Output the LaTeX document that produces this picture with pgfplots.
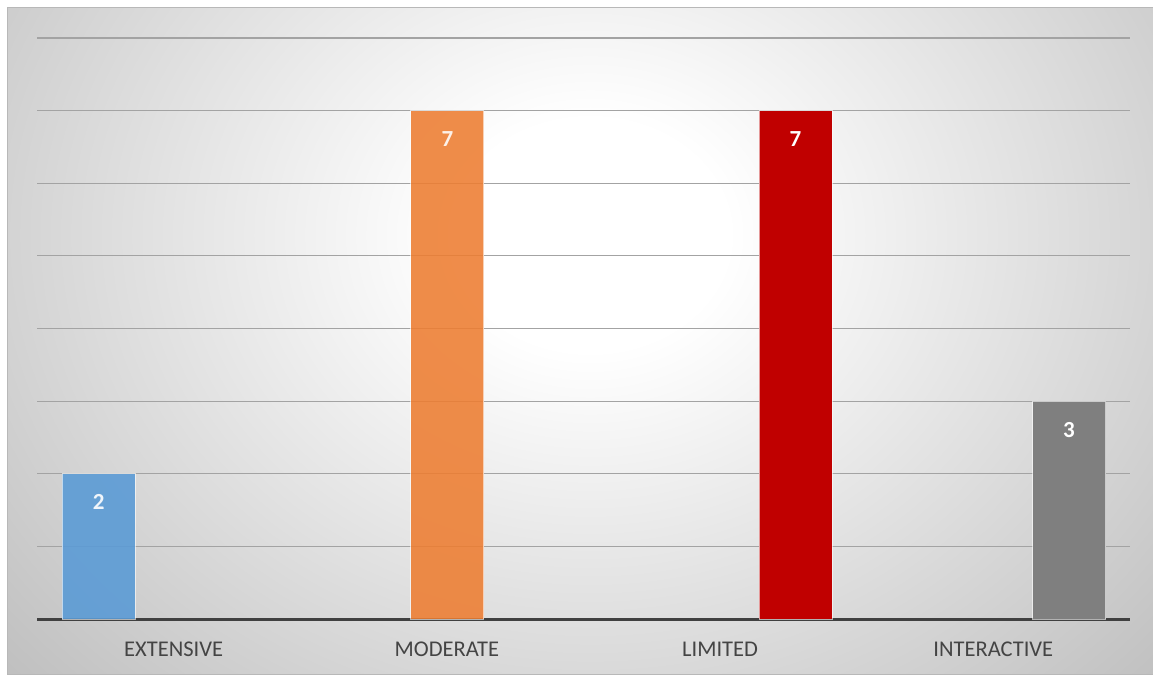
\documentclass[border=0pt]{standalone}
\usepackage{pgfplots}
\pgfplotsset{compat=1.18}
\usepackage{fontspec}
\setmainfont{Carlito}
\definecolor{cblue}{HTML}{5B9BD5}
\definecolor{corange}{HTML}{ED7D31}
\definecolor{cred}{HTML}{C00000}
\definecolor{cgray}{HTML}{7F7F7F}
\definecolor{axisgray}{HTML}{404040}
\definecolor{labelgray}{HTML}{444444}
\definecolor{gridgray}{HTML}{A3A3A3}
\definecolor{bgedge}{HTML}{B8B8B8}
\definecolor{bordergray}{HTML}{B8B8B8}
\pgfdeclareradialshading{bgrad}{\pgfpoint{0bp}{0bp}}{color(0bp)=(white); color(4bp)=(white); color(25bp)=(bgedge); color(50bp)=(bgedge)}
\begin{document}
\begin{tikzpicture}[x=1pt,y=1pt]
\useasboundingbox (0,0) rectangle (1153,675);
\fill[white] (0,0) rectangle (1153,675);
\begin{scope}
\clip (7,1) rectangle (1153,667);
\shade[shading=bgrad] (590,440) ellipse (860 and 720);
\end{scope}
\draw[bordergray, line width=1pt] (7,1) rectangle (1153,667);
\begin{axis}[
  at={(37pt,56pt)}, anchor=south west,
  scale only axis, width=1093pt, height=581pt,
  xmin=0.5, xmax=4.5, ymin=0, ymax=8,
  axis lines*=left,
  y axis line style={draw=none},
  x axis line style={line width=3pt, draw=axisgray, -},
  ytick={1,2,3,4,5,6,7,8}, yticklabels={},
  xtick={1,2,3,4},
  xticklabels={EXTENSIVE,MODERATE,LIMITED,INTERACTIVE},
  major tick length=0pt,
  ymajorgrids,
  grid style={draw=gridgray, line width=1.2pt},
  xticklabel style={anchor=base, yshift=-37.5pt, font=\fontsize{22.5}{26}\selectfont, text=labelgray},
  nodes near coords={\pgfmathprintnumber[assume math mode=true]{\pgfplotspointmeta}},
  every node near coord/.append style={anchor=base, yshift=-36pt, font=\fontsize{23}{27}\selectfont\bfseries, text=white},
  clip=false,
]
\addplot[ybar, bar width=73pt, fill=cblue, fill opacity=0.9, draw=white, draw opacity=0.6, line width=1pt] coordinates {(0.726,2)};
\addplot[ybar, bar width=73pt, fill=corange, fill opacity=0.88, draw=white, draw opacity=0.6, line width=1pt] coordinates {(2.002,7)};
\addplot[ybar, bar width=73pt, fill=cred, fill opacity=1, draw=white, draw opacity=0.6, line width=1pt] coordinates {(3.276,7)};
\addplot[ybar, bar width=73pt, fill=cgray, fill opacity=1, draw=white, draw opacity=0.6, line width=1pt] coordinates {(4.277,3)};
\end{axis}
\end{tikzpicture}
\end{document}
